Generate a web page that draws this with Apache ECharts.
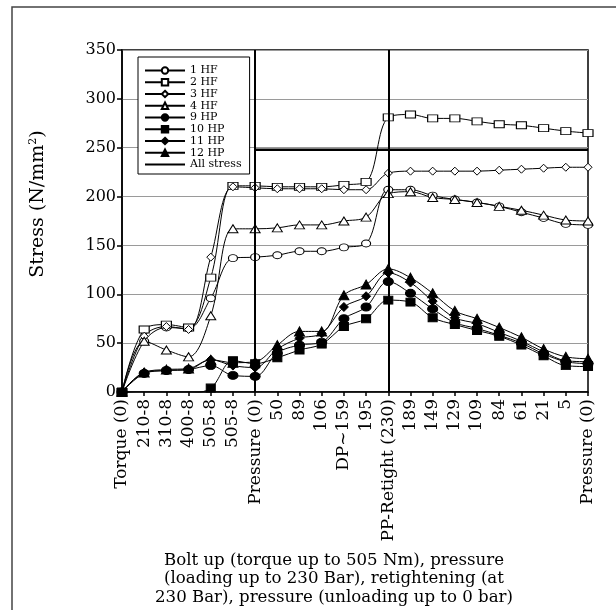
<!DOCTYPE html>
<html><head><meta charset="utf-8">
<script src="https://cdn.jsdelivr.net/npm/echarts@6/dist/echarts.min.js"></script>
<style>html,body{margin:0;padding:0;background:#fff}#c{width:616px;height:610px}</style>
</head><body><div id="c"></div>
<script>
const categories = ['Torque (0)','210-8','310-8','400-8','505-8','505-8','Pressure (0)','50','89','106','DP~159','195','PP-Retight (230)','189','149','129','109','84','61','21','5','Pressure (0)'];
const yTicks = [0, 50, 100, 150, 200, 250, 300, 350];
const hf1 = [0, 52, 66, 65, 96, 137, 138, 140, 144, 144, 148, 152, 207, 207, 201, 197, 194, 190, 184, 178, 172, 171];
const hf2 = [0, 64, 69, 66, 117, 211, 211, 210, 210, 210, 212, 215, 281, 284, 280, 280, 277, 274, 273, 270, 267, 265];
const hf3 = [0, 57, 67, 64, 138, 210, 209, 208, 208, 208, 207, 207, 224, 226, 226, 226, 226, 227, 228, 229, 230, 230];
const hf4 = [0, 52, 43, 36, 78, 167, 167, 168, 171, 171, 175, 179, 203, 205, 199, 197, 194, 190, 186, 181, 176, 175];
const hp9 = [0, 19, 22, 23, 27, 17, 16, 40, 48, 51, 75, 87, 113, 101, 85, 71, 65, 58, 50, 39, 31, 29];
const hp10 = [0, -2, -1, -1, 4, 32, 29, 35, 43, 49, 67, 75, 94, 92, 76, 69, 63, 57, 48, 37, 27, 26];
const hp11 = [0, 20, 22, 23, 33, 27, 25, 44, 55, 60, 87, 98, 122, 112, 93, 76, 70, 61, 52, 41, 32, 31];
const hp12 = [0, 20, 23, 24, 33, 30, 31, 48, 62, 62, 99, 110, 126, 117, 101, 83, 75, 66, 56, 44, 36, 34];
const allStress = [null, null, null, null, null, null, 248, 248, 248, 248, 248, 248, 248, 248, 248, 248, 248, 248, 248, 248, 248, 248];
const phaseLines = [6, 12];
const legendNames = ['1 HF','2 HF','3 HF','4 HF','9 HP','10 HP','11 HP','12 HP','All stress'];
const caption = 'Bolt up (torque up to 505 Nm), pressure\n(loading up to 230 Bar), retightening (at\n230 Bar), pressure (unloading up to 0 bar)';

const F = 'DejaVu Serif';
function mk(name, data, symbol, size, filled) {
  return {
    name, type: 'line', data, symbol, symbolSize: size, smooth: 0.35,
    showAllSymbol: true,
    lineStyle: { color: '#000', width: 1 },
    itemStyle: { color: filled ? '#000' : '#fff', borderColor: '#000', borderWidth: 1 },
    emphasis: { disabled: true }
  };
}
const lineIcon = 'path://M0,0L0.01,0L0.01,0.01L0,0.01ZM0,3.1L40,3.1L40,4.9L0,4.9ZM39.99,7.99L40,7.99L40,8L39.99,8Z';
const chart = echarts.init(document.getElementById('c'), null, { renderer: 'canvas' });
chart.setOption({
  animation: false,
  backgroundColor: '#fff',
  grid: { left: 122, right: 28, top: 50, bottom: 218, show: true, borderColor: '#000', borderWidth: 1.5, containLabel: false },
  legend: {
    orient: 'vertical', left: 138, top: 57,
    backgroundColor: '#fff', borderColor: '#000', borderWidth: 1,
    padding: [8, 8, 4, 6], itemWidth: 40, itemHeight: 8, itemGap: 0.75,
    textStyle: { fontFamily: F, fontSize: 11, lineHeight: 10, color: '#000' },
    data: legendNames.map(n => n === 'All stress' ? { name: n, icon: lineIcon } : n)
  },
  xAxis: {
    type: 'category', data: categories, boundaryGap: false,
    axisLine: { lineStyle: { color: '#000', width: 1.5 } },
    axisTick: { show: true, interval: 0, length: 4, lineStyle: { color: '#000', width: 1.5 } },
    axisLabel: { interval: 0, rotate: 90, color: '#000', fontFamily: F, fontSize: 17, margin: 7 },
    splitLine: { show: false }
  },
  yAxis: {
    type: 'value', min: 0, max: 350, interval: 50,
    name: 'Stress (N/mm{sup|2})', nameLocation: 'middle', nameGap: 74, nameRotate: 90,
    nameTextStyle: { fontFamily: F, fontSize: 19, color: '#000', padding: [0, 0, 0, 34],
      rich: { sup: { fontFamily: F, fontSize: 11, color: '#000', padding: [0, 0, 9, 0] } } },
    axisLine: { show: true, lineStyle: { color: '#000', width: 1.5 } },
    axisTick: { show: true, length: 5, lineStyle: { color: '#000', width: 1.5 } },
    axisLabel: { color: '#000', fontFamily: F, fontSize: 16, margin: 6,
      formatter: v => (yTicks.indexOf(v) >= 0 ? String(v) : '') },
    splitLine: { show: true, lineStyle: { color: '#9a9a9a', width: 1 } }
  },
  graphic: [
    { type: 'rect', shape: { x: 12, y: 7, width: 640, height: 640 }, style: { fill: 'none', stroke: '#444', lineWidth: 1.5 }, silent: true },
    { type: 'text', x: 334, y: 551, style: { text: caption, fontFamily: F, fontSize: 16.6, lineHeight: 18.5, fill: '#000', textAlign: 'center' }, silent: true }
  ],
  series: [
    mk('1 HF', hf1, 'circle', [9, 7], false),
    mk('2 HF', hf2, 'rect', [10, 7], false),
    mk('3 HF', hf3, 'diamond', [8, 8], false),
    mk('4 HF', hf4, 'triangle', [10, 8], false),
    mk('9 HP', hp9, 'circle', [10, 8], true),
    mk('10 HP', hp10, 'rect', [9, 8], true),
    mk('11 HP', hp11, 'diamond', [9, 9], true),
    mk('12 HP', hp12, 'triangle', [10, 9], true),
    {
      name: 'All stress', type: 'line', data: allStress, symbol: 'none', connectNulls: false,
      lineStyle: { color: '#000', width: 2.5 }, itemStyle: { color: '#000' },
      emphasis: { disabled: true },
      markLine: {
        silent: true, symbol: ['none', 'none'], label: { show: false },
        lineStyle: { color: '#000', width: 2, type: 'solid' },
        data: phaseLines.map(i => ({ xAxis: i }))
      }
    }
  ]
});
</script></body></html>
